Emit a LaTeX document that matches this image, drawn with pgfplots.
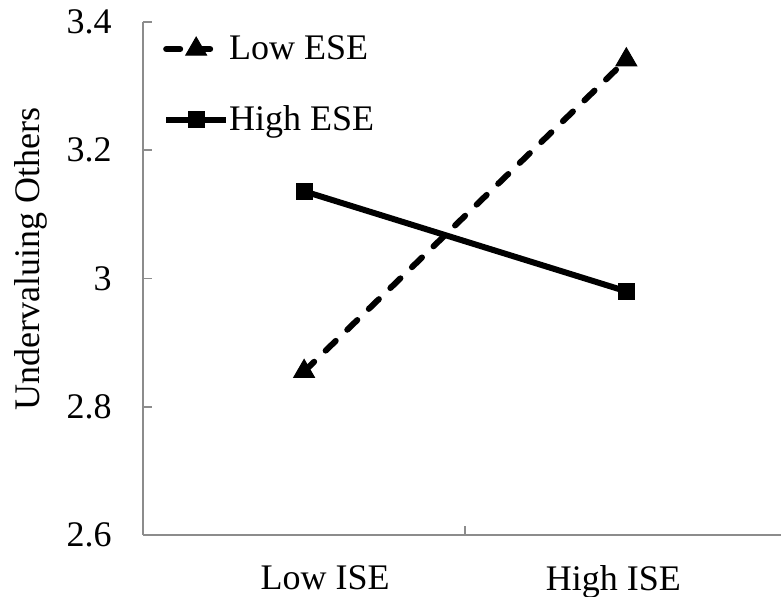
\documentclass[border=0pt]{standalone}
\usepackage{fontspec}
\setmainfont{Liberation Serif}
\usepackage{pgfplots}
\pgfplotsset{compat=1.18}
\begin{document}
\begin{tikzpicture}
\begin{axis}[
  name=ax,
  scale only axis, width=319pt, height=256.5pt,
  xmin=0, xmax=1.98, ymin=2.6, ymax=3.4,
  axis lines=left,
  axis line style={-, draw=black!45, line width=1pt},
  tick align=inside,
  major tick length=4.5pt,
  every tick/.style={draw=black!45, line width=0.8pt},
  ytick={2.6,2.8,3,3.2,3.4},
  yticklabels={2.6,2.8,3,3.2,3.4},
  yticklabel style={anchor=east, inner sep=0pt, xshift=-15.5pt},
  xtick={1}, xticklabels={},
  extra x ticks={0.565,1.46},
  extra x tick labels={Low ISE, High ISE},
  extra x tick style={major tick length=0pt},
  xticklabel style={anchor=north, inner sep=0pt, yshift=-15pt},
  tick label style={font=\fontsize{18}{20}\selectfont},
  ylabel={Undervaluing Others},
  every axis y label/.style={at={(axis description cs:-0.150,0.538)}, rotate=90, anchor=south, inner sep=0pt, font=\fontsize{18}{20}\selectfont},
  legend style={at={(axis description cs:0.031,0.974)}, anchor=north west, draw=none, fill=none, inner sep=0pt, row sep=21.5pt, column sep=0pt, font=\fontsize{18}{20}\selectfont, nodes={inner sep=0pt, anchor=west}},
  legend cell align=left,
  legend image code/.code={\draw[#1, mark repeat=2, mark phase=2] plot coordinates {(0pt,0pt) (15pt,0pt) (30pt,0pt)};},
]
\addplot[black, line width=3pt, dash pattern=on 7pt off 8pt, line cap=round, mark=triangle*, mark size=6pt, mark options={solid, line width=0.5pt}] coordinates {(0.5,2.855) (1.5,3.341)};
\addlegendentry{Low ESE}
\addplot[black, line width=3pt, mark=square*, mark size=4pt, mark options={solid, line width=0.5pt}] coordinates {(0.5,3.136) (1.5,2.980)};
\addlegendentry{High ESE}
\end{axis}
\pgfresetboundingbox
\path ([xshift=-71.5pt,yshift=-31pt]ax.south west) rectangle ([yshift=11pt]ax.north east);
\end{tikzpicture}
\end{document}
